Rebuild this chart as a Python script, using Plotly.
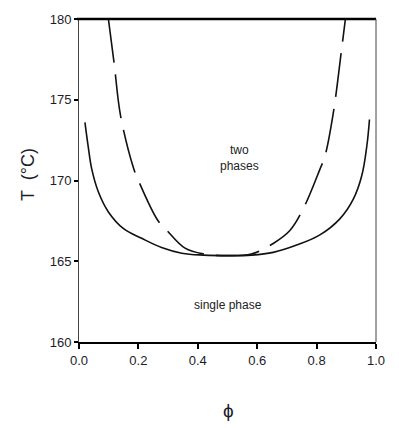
import plotly.graph_objects as go

# Binodal (solid) and spinodal (dashed) curves: volume fraction phi vs temperature T (°C)
binodal_phi = [0.02, 0.031, 0.043, 0.065, 0.099, 0.149, 0.211, 0.278, 0.346, 0.42, 0.5,
               0.58, 0.654, 0.733, 0.811, 0.879, 0.924, 0.952, 0.969, 0.978]
binodal_T = [173.6, 172.1, 170.7, 169.3, 168.05, 167.03, 166.42, 165.85, 165.5, 165.38, 165.35,
             165.38, 165.55, 166.0, 166.63, 167.64, 168.86, 170.29, 172.12, 173.78]

spinodal_phi = [0.099, 0.118, 0.14, 0.183, 0.2, 0.265, 0.295, 0.357, 0.42, 0.5,
                0.58, 0.654, 0.71, 0.755, 0.811, 0.828, 0.856, 0.884, 0.897]
spinodal_T = [180.0, 177.3, 174.0, 170.8, 170.0, 167.54, 166.93, 165.81, 165.45, 165.35,
              165.45, 166.1, 166.9, 168.25, 170.69, 171.5, 174.15, 178.1, 180.0]

x_ticks = [0.0, 0.2, 0.4, 0.6, 0.8, 1.0]
y_ticks = [160, 165, 170, 175, 180]

fig = go.Figure()
fig.add_trace(go.Scatter(x=binodal_phi, y=binodal_T, mode="lines",
                         line=dict(color="#111", width=1.6, shape="spline", smoothing=1.1),
                         showlegend=False, hoverinfo="skip"))
fig.add_trace(go.Scatter(x=spinodal_phi, y=spinodal_T, mode="lines",
                         line=dict(color="#111", width=1.6, shape="spline", smoothing=1.0,
                                   dash="44px,12px"),
                         showlegend=False, hoverinfo="skip"))

tick_font = dict(family="Liberation Sans, Arial, sans-serif", size=13, color="#1c1c2a")

fig.update_layout(
    width=399, height=428,
    margin=dict(l=79, r=23, t=14, b=86),
    paper_bgcolor="white", plot_bgcolor="white",
    xaxis=dict(range=[0, 1], tickvals=x_ticks, tickformat=".1f", showgrid=False,
               zeroline=False, showline=True, linecolor="black", linewidth=2,
               ticks="outside", ticklen=5, tickwidth=1.5, tickcolor="black",
               tickfont=tick_font, fixedrange=True),
    yaxis=dict(range=[160, 180], tickvals=y_ticks, showgrid=False, zeroline=False,
               showline=True, linecolor="#444", linewidth=1,
               ticks="outside", ticklen=4, tickwidth=2, tickcolor="black",
               tickfont=tick_font, fixedrange=True),
    font=dict(family="Liberation Sans, Arial, sans-serif"),
)

# Frame: heavy top edge, thin right edge
fig.add_shape(type="line", xref="paper", yref="paper", x0=-0.007, x1=1, y0=1, y1=1,
              line=dict(color="black", width=2.5))
fig.add_shape(type="line", xref="paper", yref="paper", x0=1, x1=1, y0=0, y1=1,
              line=dict(color="#444", width=1))

# Region labels
fig.add_annotation(x=0.54, y=171.4, text="two<br>phases", showarrow=False,
                   font=dict(size=12, color="#222"), align="center")
fig.add_annotation(x=0.5, y=162.3, text="single phase", showarrow=False,
                   font=dict(size=12, color="#222"))

# Axis titles
fig.add_annotation(xref="paper", yref="paper", x=-0.172, y=0.52, text="T  (°C)",
                   showarrow=False, textangle=-90, xanchor="center", yanchor="middle",
                   font=dict(size=18, color="#1c1c2a"))
fig.add_annotation(xref="paper", yref="paper", x=0.505, y=-0.213, text="ϕ",
                   showarrow=False, xanchor="center", yanchor="middle",
                   font=dict(size=19, color="#1c1c2a"))

fig.write_html("out.html")
